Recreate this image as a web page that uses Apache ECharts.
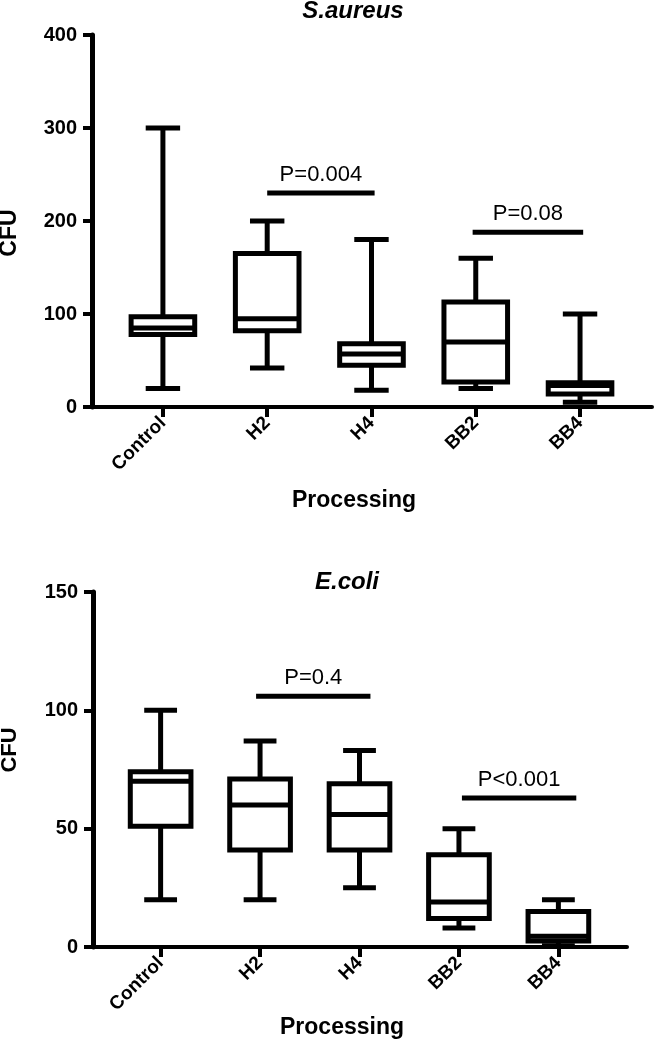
<!DOCTYPE html>
<html><head><meta charset="utf-8">
<script src="https://cdn.jsdelivr.net/npm/echarts@6/dist/echarts.min.js"></script>
<style>html,body{margin:0;padding:0;background:#fff}#c{width:654px;height:1044px}</style>
</head><body><div id="c"></div>
<script>
// ---- data ----
const categories = ['Control', 'H2', 'H4', 'BB2', 'BB4'];
// [min, Q1, median, Q3, max]
const saureusBox = [[20, 78, 85, 97, 300], [42, 82, 95, 165, 200], [18, 45, 57, 68, 180], [20, 27, 70, 113, 160], [5, 14, 23, 26, 100]];
const ecoliBox = [[20, 51, 70, 74, 100], [20, 41, 60, 71, 87], [25, 41, 56, 69, 83], [8, 12, 19, 39, 50], [0.5, 2.5, 4.5, 15, 20]];
const saureusP = [{from: 1, to: 2.03, y: 230, label: 'P=0.004'}, {from: 2.97, to: 4.03, y: 188, label: 'P=0.08'}];
const ecoliP = [{from: 0.96, to: 2.11, y: 106, label: 'P=0.4'}, {from: 3.03, to: 4.18, y: 63, label: 'P<0.001'}];
const saureusTicks = [0, 100, 200, 300, 400];
const ecoliTicks = [0, 50, 100, 150];
const titles = ['S.aureus', 'E.coli'];
const xName = 'Processing';
const yName = 'CFU';

// ---- style ----
const FONT = '"Liberation Sans", Arial, Helvetica, sans-serif';
const LW = 5;
const BOX_W = 0.61, CAP_W = 0.33;
const catIdx = categories.map((_, i) => i);

function boxRender(params, api) {
  const x = api.value(0);
  const vals = [1, 2, 3, 4, 5].map(k => api.coord([x, api.value(k)])[1]);
  const [yMin, yQ1, yMed, yQ3, yMax] = vals;
  const cx = api.coord([x, 0])[0];
  const half = api.size([BOX_W, 0])[0] / 2;
  const capHalf = api.size([CAP_W, 0])[0] / 2;
  const ls = {stroke: '#000', lineWidth: LW, fill: null};
  return {type: 'group', children: [
    {type: 'line', shape: {x1: cx, y1: yQ3, x2: cx, y2: yMax}, style: ls},
    {type: 'line', shape: {x1: cx, y1: yQ1, x2: cx, y2: yMin}, style: ls},
    {type: 'line', shape: {x1: cx - capHalf, y1: yMax, x2: cx + capHalf, y2: yMax}, style: ls},
    {type: 'line', shape: {x1: cx - capHalf, y1: yMin, x2: cx + capHalf, y2: yMin}, style: ls},
    {type: 'rect', shape: {x: cx - half, y: yQ3, width: 2 * half, height: yQ1 - yQ3},
      style: {stroke: '#000', lineWidth: LW, fill: '#fff', lineJoin: 'miter'}},
    {type: 'line', shape: {x1: cx - half, y1: yMed, x2: cx + half, y2: yMed}, style: ls}
  ]};
}
function pRender(list) {
  return function (params, api) {
    const a = api.coord([api.value(0), api.value(2)]);
    const b = api.coord([api.value(1), api.value(2)]);
    const item = list[params.dataIndex];
    return {type: 'group', children: [
      {type: 'line', shape: {x1: a[0], y1: a[1], x2: b[0], y2: b[1]}, style: {stroke: '#000', lineWidth: LW}},
      {type: 'text', x: (a[0] + b[0]) / 2, y: a[1] - 7,
        style: {text: item.label, fill: '#000', font: '22px ' + FONT, align: 'center', verticalAlign: 'bottom'}}
    ]};
  };
}

function xAxisCfg(gridIndex, max) {
  return {
    type: 'value', gridIndex, min: -0.68, max,
    splitLine: {show: false},
    axisLine: {show: true, onZero: false, lineStyle: {color: '#000', width: 4}},
    axisTick: {show: true, length: 10, lineStyle: {color: '#000', width: 4}, customValues: catIdx},
    axisLabel: {customValues: catIdx, formatter: v => categories[Math.round(v)] || '', rotate: 45, margin: 13,
      color: '#000', fontWeight: 'bold', fontSize: 19, fontFamily: FONT}
  };
}
function yAxisCfg(gridIndex, ticks) {
  return {
    type: 'value', gridIndex, min: ticks[0], max: ticks[ticks.length - 1], interval: ticks[1] - ticks[0],
    splitLine: {show: false},
    axisLine: {show: true, onZero: false, lineStyle: {color: '#000', width: 5}},
    axisTick: {show: true, length: 9, lineStyle: {color: '#000', width: 4}},
    axisLabel: {margin: 15, color: '#000', fontWeight: 'bold', fontSize: 20, fontFamily: FONT}
  };
}

const chart = echarts.init(document.getElementById('c'), null, {renderer: 'canvas'});
chart.setOption({
  animation: false,
  backgroundColor: '#fff',
  grid: [
    {left: 92, top: 35, width: 560, height: 372},
    {left: 93, top: 592, width: 534, height: 355}
  ],
  xAxis: [xAxisCfg(0, 4.69), xAxisCfg(1, 4.69)],
  yAxis: [yAxisCfg(0, saureusTicks), yAxisCfg(1, ecoliTicks)],
  graphic: [
    {type: 'text', x: 353, y: 11, style: {text: titles[0], font: 'italic bold 24px ' + FONT, fill: '#000', align: 'center', verticalAlign: 'middle'}},
    {type: 'text', x: 347, y: 582, style: {text: titles[1], font: 'italic bold 24px ' + FONT, fill: '#000', align: 'center', verticalAlign: 'middle'}},
    {type: 'text', x: 354, y: 501, style: {text: xName, font: 'bold 23px ' + FONT, fill: '#000', align: 'center', verticalAlign: 'middle'}},
    {type: 'text', x: 342, y: 1028, style: {text: xName, font: 'bold 23px ' + FONT, fill: '#000', align: 'center', verticalAlign: 'middle'}},
    {type: 'text', x: 10, y: 233, rotation: Math.PI / 2, style: {text: yName, font: 'bold 23px ' + FONT, fill: '#000', align: 'center', verticalAlign: 'middle'}},
    {type: 'text', x: 10, y: 750, rotation: Math.PI / 2, style: {text: yName, font: 'bold 22px ' + FONT, fill: '#000', align: 'center', verticalAlign: 'middle'}}
  ],
  series: [
    {type: 'custom', xAxisIndex: 0, yAxisIndex: 0, renderItem: boxRender, encode: {x: 0, y: [1, 2, 3, 4, 5]},
      data: saureusBox.map((d, i) => [i, ...d]), clip: false},
    {type: 'custom', xAxisIndex: 1, yAxisIndex: 1, renderItem: boxRender, encode: {x: 0, y: [1, 2, 3, 4, 5]},
      data: ecoliBox.map((d, i) => [i, ...d]), clip: false},
    {type: 'custom', xAxisIndex: 0, yAxisIndex: 0, renderItem: pRender(saureusP), encode: {x: [0, 1], y: 2},
      data: saureusP.map(p => [p.from, p.to, p.y]), clip: false},
    {type: 'custom', xAxisIndex: 1, yAxisIndex: 1, renderItem: pRender(ecoliP), encode: {x: [0, 1], y: 2},
      data: ecoliP.map(p => [p.from, p.to, p.y]), clip: false}
  ]
});
</script></body></html>
